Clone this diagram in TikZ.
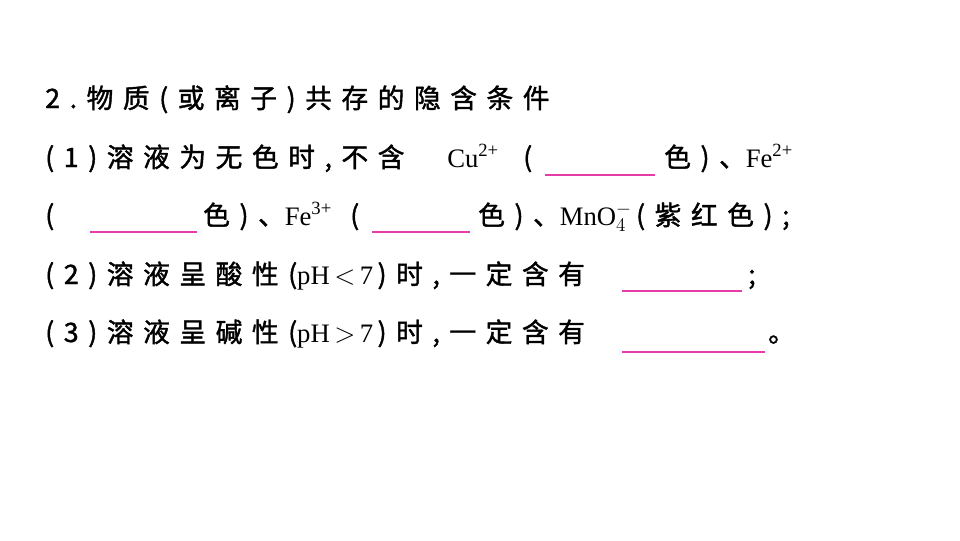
\documentclass[tikz,border=0pt]{standalone}
\usepackage{fontspec}
\setmainfont{Liberation Serif}
\newfontfamily\cjk{Noto Sans CJK SC}[FakeBold=1.5,LetterSpace=36]
\definecolor{blank}{RGB}{230,60,170}
\tikzset{t/.style={anchor=base west,inner sep=0pt,font=\fontsize{20}{24}\selectfont},
 bl/.style={blank,line width=0.9pt}}
\begin{document}
\begin{tikzpicture}[x=0.75pt,y=-0.75pt]
\useasboundingbox (0,0) rectangle (960,540);
\node[t] (l0) at (45,108) {\cjk 2.物质(或离子)共存的隐含条件};
\node[t] (l1a) at (45,167) {\cjk (1)溶液为无色时,不含};
\node[t] (l1b) at (447,167) {Cu\textsuperscript{2+}};
\node[t] (l1c) at (523,167) {\cjk (};
\draw[bl] (545,175) -- (655,175);
\node[t] (l1d) at (664,167) {\cjk 色)、\normalfont Fe\textsuperscript{2+}};
\node[t] (l2a) at (45,225) {\cjk (};
\draw[bl] (90,232) -- (197,232);
\node[t] (l2b) at (203,225) {\cjk 色)、\normalfont Fe\textsuperscript{3+}};
\node[t] (l2c) at (350,225) {\cjk (};
\draw[bl] (372,232) -- (470,232);
\node[t] (l2d) at (478,225) {\cjk 色)、\normalfont MnO$_4^-$\,\cjk (紫红色);};
\node[t] (l3) at (45,284) {\cjk (2)溶液呈酸性(\normalfont pH\,$<$\,7\,\cjk )时,一定含有};
\draw[bl] (622,291) -- (742,291);
\node[t] (l3b) at (748,284) {\cjk ;};
\node[t] (l4) at (45,342) {\cjk (3)溶液呈碱性(\normalfont pH\,$>$\,7\,\cjk )时,一定含有};
\draw[bl] (622,352) -- (765,352);
\node[t] (l4b) at (768,342) {\cjk 。};
\end{tikzpicture}
\end{document}
